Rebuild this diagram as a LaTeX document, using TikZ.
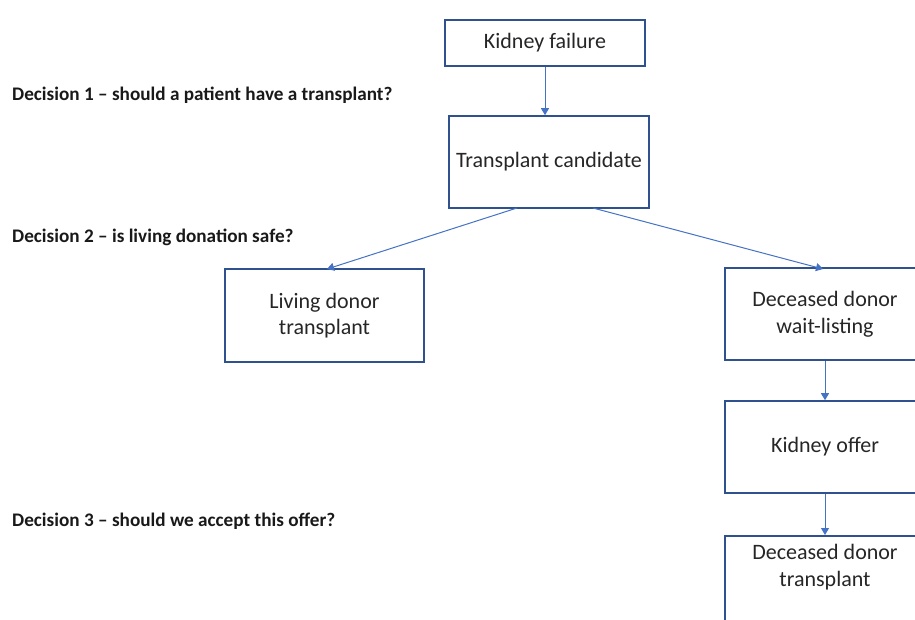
\documentclass[tikz,border=0pt]{standalone}
\usepackage{fontspec}
\setmainfont{Carlito}
\usetikzlibrary{arrows.meta}
\definecolor{boxblue}{HTML}{2F528F}
\definecolor{arrblue}{HTML}{4472C4}
\definecolor{txt}{HTML}{262626}
\tikzset{
  stepbox/.style={draw=boxblue, line width=1.6pt, minimum width=200pt, inner sep=0pt, text=txt, align=center, font=\fontsize{22}{26.5}\selectfont},
  flow/.style={draw=arrblue, line width=1pt, -{Triangle[length=7pt,width=8pt]}},
  decision/.style={anchor=west, inner sep=0pt, text=black!90, font=\fontsize{19.2}{22}\selectfont\bfseries},
  label/.style={text=txt, align=center, font=\fontsize{22}{27}\selectfont}
}
\begin{document}
\begin{tikzpicture}[x=1pt,y=-1pt]
\useasboundingbox (0,0) rectangle (915,619);
\clip (0,0) rectangle (915,619);
\node[stepbox, minimum height=46pt] (kf) at (545,43) {Kidney failure};
\node[stepbox, minimum height=92pt] (tc) at (549,162) {Transplant candidate};
\node[stepbox, minimum height=93pt, minimum width=199pt] (ld) at (324.5,315.5) {Living donor\\transplant};
\node[stepbox, minimum height=92pt] (dw) at (825,314) {Deceased donor\\wait-listing};
\node[stepbox, minimum height=92pt] (ko) at (825,447) {Kidney offer};
\node[stepbox, minimum height=130pt, anchor=north] (dt) at (825,535) {};
\node[label] (dtl) at (825,567) {Deceased donor\\transplant};
\coordinate (tcl) at (517,208);
\coordinate (tcr) at (593,208);
\coordinate (ldt) at (327,269);
\coordinate (dwt) at (823,269);
\draw[flow] (kf.south) -- (kf.south |- tc.north);
\draw[flow] (tcl) -- (ldt);
\draw[flow] (tcr) -- (dwt);
\draw[flow] (dw.south) -- (ko.north);
\draw[flow] (ko.south) -- (dt.north);
\node[decision] (d1) at (12,95) {Decision 1 – should a patient have a transplant?};
\node[decision] (d2) at (12,237) {Decision 2 – is living donation safe?};
\node[decision] (d3) at (12,521) {Decision 3 – should we accept this offer?};
\end{tikzpicture}
\end{document}
